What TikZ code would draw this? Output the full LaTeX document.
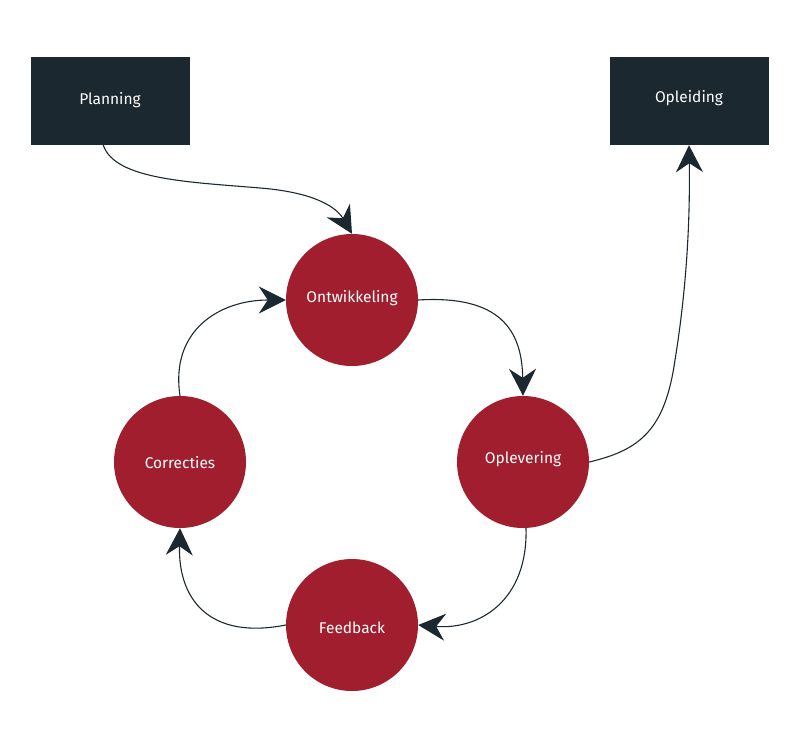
\documentclass[tikz,border=0pt]{standalone}
\usepackage{fontspec}
\setmainfont{Fira Sans}
\usetikzlibrary{arrows.meta}
\definecolor{donker}{HTML}{1C282F}
\definecolor{rood}{HTML}{A01E2D}
\newcommand{\omhoog}[2]{\raisebox{#1}[\height][\depth]{#2}}
\begin{document}
\begin{tikzpicture}[x=1pt, y=-1pt, font=\fontsize{15.5}{18}\selectfont, line join=round, line cap=round,
		>={Stealth[length=27pt, width=27pt, inset=9pt]},
		blok/.style={fill=donker, text=white, minimum width=159pt, minimum height=88pt, inner sep=0pt},
		fase/.style={circle, fill=rood, text=white, minimum size=132pt, inner sep=0pt},
		pijl/.style={->, draw=donker, line width=1.1pt}]
				\useasboundingbox (0,0) rectangle (800,730);
				\node[blok] (planning) at (110,101) {\omhoog{1pt}{Planning}};
				\node[blok] (opleiding) at (689,101) {\omhoog{3pt}{Opleiding}};
				\node[fase] (ontw) at (352,300) {\omhoog{2pt}{Ontwikkeling}};
				\node[fase] (oplev) at (523,462) {\omhoog{3pt}{Oplevering}};
				\node[fase] (feedb) at (352,625) {\omhoog{-3pt}{Feedback}};
				\node[fase] (corr) at (180,462) {\omhoog{-1pt}{Correcties}};
				\draw[pijl] (planning.south west) ++(73,0) .. controls (115,180) and (190,182) .. (260,188) .. controls (310,192) and (335,205) .. (ontw.north);
				\draw[pijl] (ontw.east) .. controls (500,295) and (522,330) .. (oplev.north);
				\draw[pijl] (oplev.south) ++(3,0) .. controls (528,600) and (480,630) .. (feedb.east);
				\draw[pijl] (feedb.west) .. controls (210,640) and (178,600) .. (corr.south);
				\draw[pijl] (corr.north) .. controls (170,330) and (220,300) .. (ontw.west);
				\draw[pijl] (oplev.east) .. controls (640,450) and (665,430) .. (675,360) .. controls (688,280) and (690,210) .. (opleiding.south);
			\end{tikzpicture}
\end{document}
